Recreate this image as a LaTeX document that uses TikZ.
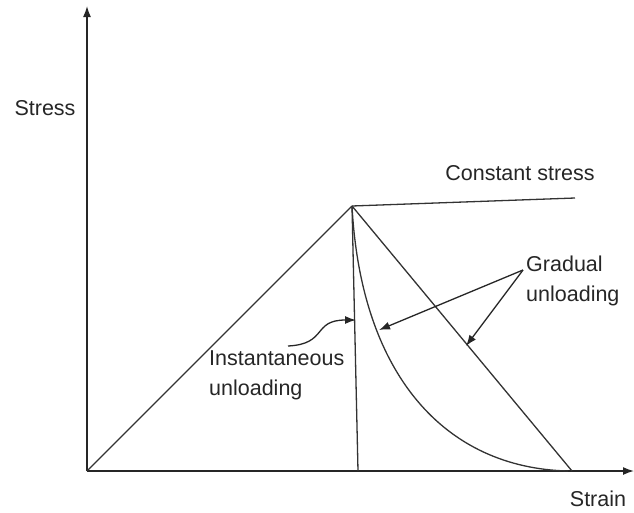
\documentclass[tikz,border=0pt]{standalone}
\usepackage{fontspec}
\setmainfont{Liberation Sans}
\usetikzlibrary{arrows.meta,positioning,calc}

\begin{document}
\begin{tikzpicture}[
      x=1pt, y=-1pt,
      axis/.style={-{Latex[length=11pt,width=8pt]}, line width=1.5pt, black!85},
      curve/.style={line width=1.3pt, black!80},
      lbl/.style={font=\fontsize{21.5}{30}\selectfont, text=black!85, inner sep=0pt, align=left},
      pointer/.style={-{Latex[length=11pt,width=8pt]}, line width=1.3pt, black!85}
    ]
      \useasboundingbox (0,0) rectangle (634,512);

      % points of the curves
      \coordinate (orig) at (87,471);
      \coordinate (ytop) at (87,6);
      \coordinate (xend) at (634,471);
      \coordinate (peak) at (352,206);
      \coordinate (flat) at (575,198);
      \coordinate (inst) at (358,471);
      \coordinate (grad) at (572,471);
      \coordinate (expo) at (568,471);

      % axes
      \draw[axis] (orig) -- (ytop);
      \draw[axis] (orig) -- (xend);
      \node[lbl] (stress) at (45,108) {Stress};
      \node[lbl] (strain) at (598,499) {Strain};

      % loading and unloading paths
      \draw[curve] (orig) -- (peak);
      \draw[curve] (peak) -- (flat);
      \draw[curve] (peak) -- (inst);
      \draw[curve] (peak) -- (grad);
      \draw[curve] (peak) .. controls (361,375) and (445,468) .. (expo);

      % labels
      \node[lbl] (const) at (520,173) {Constant stress};
      \node[lbl, anchor=west] (gradlbl) at (526,281) {Gradual\\[0pt]unloading};
      \node[lbl, anchor=west] (instlbl) at (209,375) {Instantaneous\\[0pt]unloading};

      % pointers
      \coordinate (gsrc) at (523,270);
      \coordinate (gon1) at (379,330);
      \coordinate (gon2) at (466,346);
      \draw[pointer] (gsrc) -- (gon1);
      \draw[pointer] (gsrc) -- (gon2);
      \coordinate (isrc) at (288,346);
      \coordinate (ion) at (356,320);
      \draw[pointer] (isrc) .. controls (328,344) and (312,320) .. (ion);
    \end{tikzpicture}
\end{document}
